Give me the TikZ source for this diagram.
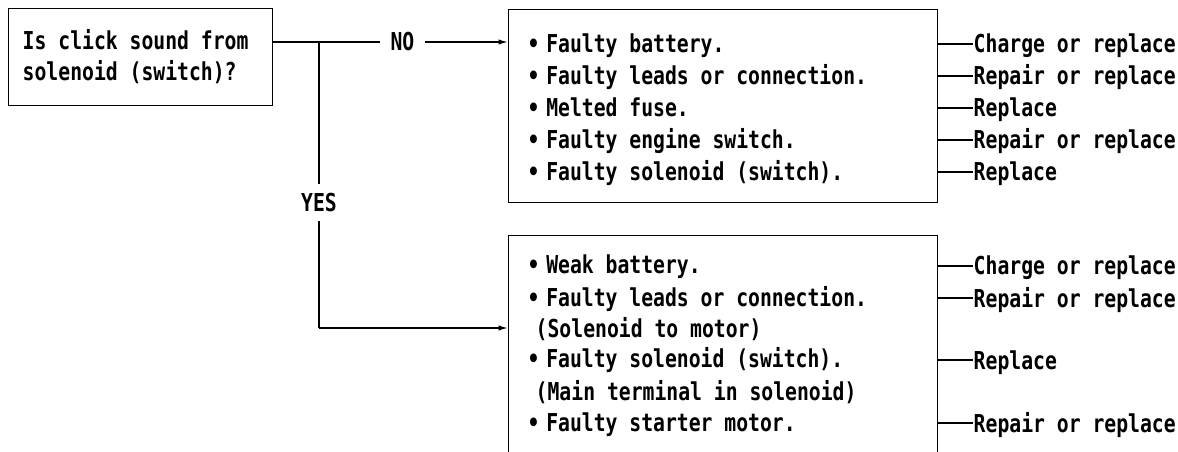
\documentclass[tikz,border=0pt]{standalone}
\usepackage{fontspec}
\usetikzlibrary{arrows.meta}
\newfontfamily\reff[FakeStretch=0.8]{DejaVu Sans Mono}
\begin{document}
\begin{tikzpicture}[x=0.75pt,y=-0.75pt, line width=1.1pt,
  fnt/.style={font=\reff\bfseries\fontsize{18.5}{21}\selectfont},
  txt/.style={fnt, inner sep=0pt, anchor=west, text height=13.5pt, text depth=0pt},
  lbl/.style={fnt, fill=white, text height=13.5pt, text depth=0pt},
  box/.style={draw, inner sep=0pt, anchor=north west},
  arr/.style={-{Latex[length=7pt,width=4pt]}}]
\useasboundingbox (0,0) rectangle (1178,452);
\clip (0,0) rectangle (1178,452);
% question
\node[box, minimum width=198pt, minimum height=72.75pt] (q) at (8,8) {};
\node[txt] (q1) at (22,41) {Is click sound from};
\node[txt] (q2) at (22,72) {solenoid (switch)?};
% boxes
\node[box, minimum width=321.75pt, minimum height=144.75pt] (up) at (508,9) {};
\node[box, minimum width=321.75pt, minimum height=195pt] (low) at (508,235) {};
% branches
\coordinate (j) at (319,42);
\coordinate (jy) at (319,328);
\draw[arr] (q.east |- j) -- node[lbl, pos=0.55, inner xsep=8pt, inner ysep=0pt] (no) {NO} (up.west |- j);
\draw (j) -- node[lbl, pos=0.561, inner xsep=2pt, inner ysep=7pt] (yes) {YES} (jy);
\draw[arr] (jy) -- (low.west |- jy);
% upper items
\node[txt] (u1) at (527,44)  {•\hspace{5pt}Faulty battery.};
\node[txt] (u2) at (527,76)  {•\hspace{5pt}Faulty leads or connection.};
\node[txt] (u3) at (527,108) {•\hspace{5pt}Melted fuse.};
\node[txt] (u4) at (527,140) {•\hspace{5pt}Faulty engine switch.};
\node[txt] (u5) at (527,172) {•\hspace{5pt}Faulty solenoid (switch).};
% lower items
\node[txt] (w1) at (527,265) {•\hspace{5pt}Weak battery.};
\node[txt] (w2) at (527,297) {•\hspace{5pt}Faulty leads or connection.};
\node[txt] (w3) at (535,328) {(Solenoid to motor)};
\node[txt] (w4) at (527,359) {•\hspace{5pt}Faulty solenoid (switch).};
\node[txt] (w5) at (535,391) {(Main terminal in solenoid)};
\node[txt] (w6) at (527,422) {•\hspace{5pt}Faulty starter motor.};
% upper remedies
\node[txt] (r1) at (973,44)  {Charge or replace};
\node[txt] (r2) at (973,76)  {Repair or replace};
\node[txt] (r3) at (973,108) {Replace};
\node[txt] (r4) at (973,140) {Repair or replace};
\node[txt] (r5) at (973,172) {Replace};
\foreach \r in {r1,r2,r3,r4,r5} \draw (up.east |- \r) -- (\r.west);
% lower remedies
\node[txt] (s1) at (973,266) {Charge or replace};
\node[txt] (s2) at (973,298) {Repair or replace};
\node[txt] (s3) at (973,360) {Replace};
\node[txt] (s4) at (973,423) {Repair or replace};
\foreach \s in {s1,s2,s3,s4} \draw (low.east |- \s) -- (\s.west);
\end{tikzpicture}
\end{document}
